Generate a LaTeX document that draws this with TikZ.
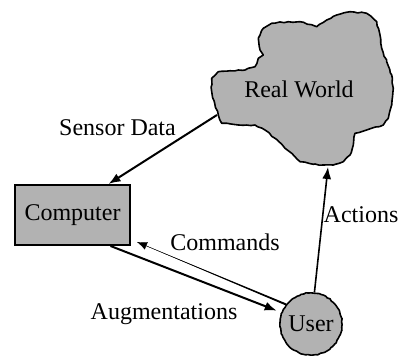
\documentclass[tikz,border=0pt]{standalone}
\usepackage{fontspec}
\setmainfont{Liberation Serif}
\usetikzlibrary{arrows.meta}
\usetikzlibrary{calc}
\usetikzlibrary{decorations.pathmorphing}
\definecolor{shade}{gray}{0.7}

\begin{document}
\begin{tikzpicture}[x=0.5pt,y=-0.5pt,font=\fontsize{12}{14}\selectfont,
  rough/.style={decorate,decoration={random steps,segment length=1.2pt,amplitude=0.25pt}},
  box/.style={draw,line width=1pt,fill=shade,minimum width=57.5pt,minimum height=30pt,inner sep=0pt},
  person/.style={draw,circle,line width=0.8pt,fill=shade,minimum size=31pt,inner sep=0pt,rough},
  lbl/.style={anchor=base,inner sep=0pt},
  flow/.style={line width=1pt,-{Latex[length=6pt,width=4.5pt]}}]
  \useasboundingbox (0,0) rectangle (401,356);

  % the world
  \filldraw[fill=shade,draw=black,line width=0.8pt,line join=round,
    decorate,decoration={random steps,segment length=2pt,amplitude=0.3pt}] (218.3,71.7)
    -- (245,70) -- (255,66.7) -- (258.3,58.3) -- (263.3,55) -- (260,50) -- (258.3,38.3)
    -- (263.3,28.3) -- (271.7,23.3) -- (288.3,21.7) -- (300,21.7) -- (316.7,26.7) -- (326.7,20)
    -- (336.7,15) -- (350,11.7) -- (366.7,13.3) -- (376.7,21.7) -- (380,35) -- (381.7,48.3)
    -- (386.7,61.7) -- (391.7,75) -- (393.3,88.3) -- (391.7,105) -- (388.3,118.3) -- (383.3,125)
    -- (366.7,130) -- (355,133.3) -- (353.3,145) -- (350,155) -- (343.3,161.7) -- (333.3,165)
    -- (323.3,165) -- (313.3,164.3) -- (300,161.7) -- (295,156.7) -- (285,148.3) -- (275,138.3)
    -- (265,130) -- (255,125) -- (238.3,125) -- (221.7,123.3) -- (218.3,115) -- (215,105)
    -- (211.7,91.7) -- (211.7,78.3) -- cycle;
  \node[lbl] (rw) at (299,98) {Real World};
  \coordinate (rwsw) at (217,115);
  \coordinate (rws) at (328,167);

  \node[box] (comp) at (72.5,215) {Computer};
  \node[person] (usr) at (311,324) {User};

  \coordinate (ce) at ([xshift=3pt,yshift=2pt]comp.south east);

  \draw[flow] (rwsw) -- ([xshift=18pt]comp.north);
  \draw[flow,line width=0.8pt] (usr) -- (rws);
  \draw[flow,shorten >=2.5pt] ([xshift=19pt]comp.south) -- (usr);
  \fill ($(usr.142)!0.5pt!90:(ce)$) -- ($(usr.142)!0.5pt!-90:(ce)$) -- (ce) -- cycle;
  \draw[line width=0.2pt,-{Latex[length=5pt,width=4pt]}] (usr.142) -- (ce);

  \node[lbl] (sd) at (117.5,136) {Sensor Data};
  \node[lbl] (act) at (361,222.7) {Actions};
  \node[lbl] (cmd) at (225,251) {Commands};
  \node[lbl] (aug) at (164,320) {Augmentations};
\end{tikzpicture}
\end{document}
